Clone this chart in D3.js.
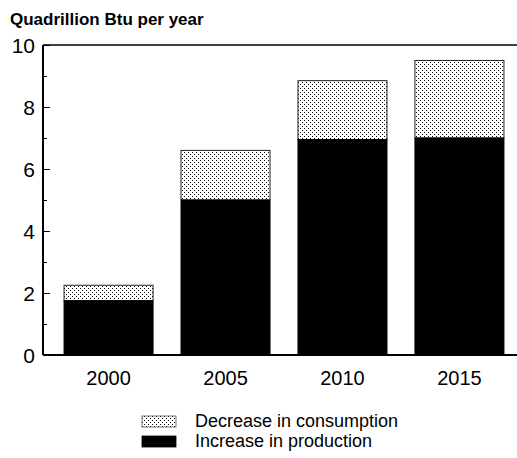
<!DOCTYPE html>
<html><head><meta charset="utf-8">
<script src="https://cdn.jsdelivr.net/npm/d3@7"></script>
<style>body{margin:0;background:#fff}svg{display:block}text{font-family:"Liberation Sans",Arial,sans-serif}</style>
</head><body>
<script>
const years = ["2000","2005","2010","2015"];
const production = [1.75, 5.0, 6.95, 7.0];
const consumptionDecrease = [0.5, 1.6, 1.9, 2.5];
const yTicks = [0,2,4,6,8,10];
const minorTicks = [1,3,5,7,9];
const legendLabels = ["Decrease in consumption","Increase in production"];

const W=517,H=458;
const svg=d3.select("body").append("svg").attr("width",W).attr("height",H);
const defs=svg.append("defs");
const pat=defs.append("pattern").attr("id","dots").attr("patternUnits","userSpaceOnUse").attr("width",4).attr("height",4);
pat.append("rect").attr("width",4).attr("height",4).attr("fill","#fff");
pat.append("rect").attr("x",0).attr("y",0).attr("width",1).attr("height",1).attr("fill","#000");
pat.append("rect").attr("x",2).attr("y",2).attr("width",1).attr("height",1).attr("fill","#000");

const mL=43,mR=517,mT=45,mB=355;
const x=d3.scaleBand().domain(years).range([mL,525]).paddingInner(0.239).paddingOuter(0.18);
const y=d3.scaleLinear().domain([0,10]).range([mB,mT]);

svg.append("text").attr("x",10).attr("y",25).attr("font-size",17).attr("font-weight","bold").text("Quadrillion Btu per year");

// bars
const g=svg.append("g");
years.forEach((yr,i)=>{
  const p=production[i], c=consumptionDecrease[i];
  g.append("rect").attr("x",x(yr)).attr("width",x.bandwidth()).attr("y",y(p+c)).attr("height",y(p)-y(p+c))
   .attr("fill","url(#dots)").attr("stroke","#222").attr("stroke-width",1);
  g.append("rect").attr("x",x(yr)).attr("width",x.bandwidth()).attr("y",y(p)).attr("height",y(0)-y(p))
   .attr("fill","#000").attr("stroke","#000").attr("stroke-width",1);
});

// axes
const ya=svg.append("g").attr("transform",`translate(${mL},0)`)
  .call(d3.axisRight(y).tickValues(yTicks).tickSize(7).tickFormat(""));
ya.select(".domain").remove();
ya.selectAll("line").attr("stroke","#000").attr("stroke-width",1);
svg.append("g").attr("transform",`translate(${mL},0)`)
  .call(d3.axisRight(y).tickValues(minorTicks).tickSize(4).tickFormat(""))
  .call(s=>s.select(".domain").remove()).selectAll("line").attr("stroke","#000");
svg.append("g").selectAll("text").data(yTicks).join("text")
  .attr("x",mL-8).attr("y",d=>y(d)).attr("dy","0.36em").attr("text-anchor","end").attr("font-size",21).text(d=>d);
svg.append("line").attr("x1",mL).attr("x2",mL).attr("y1",mT).attr("y2",mB).attr("stroke","#000").attr("stroke-width",2);
svg.append("line").attr("x1",mL).attr("x2",mR).attr("y1",mB).attr("y2",mB).attr("stroke","#000").attr("stroke-width",2);
svg.append("line").attr("x1",mL).attr("x2",mR).attr("y1",mT).attr("y2",mT).attr("stroke","#000").attr("stroke-width",1.5);

svg.append("g").selectAll("text").data(years).join("text")
  .attr("x",d=>x(d)+x.bandwidth()/2).attr("y",385).attr("text-anchor","middle").attr("font-size",20).text(d=>d);

// legend
const lg=svg.append("g");
const fills=["url(#dots)","#000"];
legendLabels.forEach((t,i)=>{
  const yy=416+i*20;
  lg.append("rect").attr("x",142).attr("y",yy).attr("width",34).attr("height",11).attr("fill",fills[i]).attr("stroke",i?"#000":"#555").attr("stroke-width",0.8);
  lg.append("text").attr("x",195).attr("y",yy+11).attr("font-size",18).text(t);
});
</script>
</body></html>
